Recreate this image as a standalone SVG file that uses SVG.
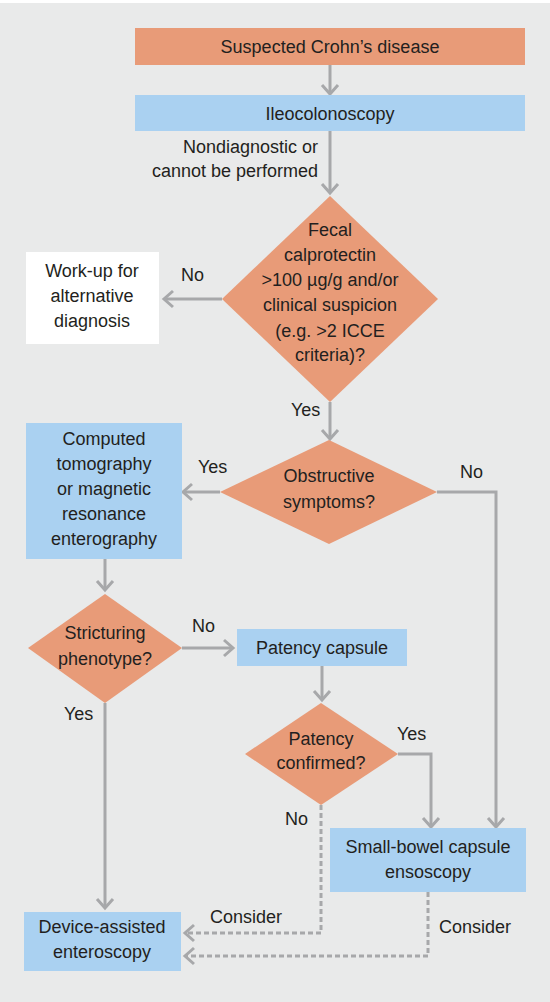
<svg xmlns="http://www.w3.org/2000/svg" width="550" height="1002" viewBox="0 0 550 1002">
<defs>
<style>
.t{font-family:"Liberation Sans",Arial,sans-serif;font-size:18px;fill:#231f20;text-anchor:middle}
.l{font-family:"Liberation Sans",Arial,sans-serif;font-size:18px;fill:#231f20}
.r{text-anchor:end}
.or{fill:#e89b78}
.bl{fill:#aad1f1}
.ln{fill:none;stroke:#a7a8aa;stroke-width:3}
.ds{stroke-dasharray:5,3}
</style>
<marker id="ah" markerUnits="userSpaceOnUse" markerWidth="14" markerHeight="22" refX="11" refY="10" orient="auto">
<path d="M2,2 L11,10 L2,18" fill="none" stroke="#a7a8aa" stroke-width="3"/>
</marker>
</defs>
<rect x="0" y="0" width="550" height="1002" fill="#ffffff"/>
<rect x="0" y="3" width="550" height="999" fill="#e9eaea"/>

<g id="connectors">
<line class="ln" x1="330" y1="65" x2="330" y2="94" marker-end="url(#ah)"/>
<line class="ln" x1="330" y1="131" x2="330" y2="193" marker-end="url(#ah)"/>
<line class="ln" x1="222" y1="299" x2="164" y2="299" marker-end="url(#ah)"/>
<line class="ln" x1="330" y1="402" x2="330" y2="439" marker-end="url(#ah)"/>
<line class="ln" x1="220" y1="492" x2="183" y2="492" marker-end="url(#ah)"/>
<polyline class="ln" points="437,492 496,492 496,827" marker-end="url(#ah)"/>
<line class="ln" x1="105" y1="559" x2="105" y2="590" marker-end="url(#ah)"/>
<line class="ln" x1="182" y1="648" x2="233" y2="648" marker-end="url(#ah)"/>
<line class="ln" x1="322" y1="666" x2="322" y2="700" marker-end="url(#ah)"/>
<polyline class="ln" points="398,754 431,754 431,827" marker-end="url(#ah)"/>
<line class="ln" x1="105" y1="703" x2="105" y2="908" marker-end="url(#ah)"/>
<polyline class="ln ds" points="321,805 321,933 185,933" marker-end="url(#ah)"/>
<polyline class="ln ds" points="428,892 428,956 185,956" marker-end="url(#ah)"/>
<text class="l r" x="318" y="153">Nondiagnostic or</text>
<text class="l r" x="318" y="177">cannot be performed</text>
<text class="l" x="181" y="281">No</text>
<text class="l" x="291" y="416">Yes</text>
<text class="l" x="198" y="473">Yes</text>
<text class="l" x="460" y="478">No</text>
<text class="l" x="192" y="632">No</text>
<text class="l" x="64" y="720">Yes</text>
<text class="l" x="397" y="740">Yes</text>
<text class="l" x="285" y="825">No</text>
<text class="l" x="210" y="923">Consider</text>
<text class="l" x="439" y="933">Consider</text>
</g>

<g id="n1"><rect class="or" x="135" y="28" width="390" height="37"/><text class="t" x="330" y="53">Suspected Crohn’s disease</text></g>
<g id="n2"><rect class="bl" x="135" y="95" width="390" height="36"/><text class="t" x="330" y="120">Ileocolonoscopy</text></g>
<g id="n3"><polygon class="or" points="330,196 438,299 330,402 222,299"/>
<text class="t" x="330" y="236">Fecal</text>
<text class="t" x="330" y="261">calprotectin</text>
<text class="t" x="330" y="286">&gt;100 µg/g and/or</text>
<text class="t" x="330" y="311">clinical suspicion</text>
<text class="t" x="330" y="337">(e.g. &gt;2 ICCE</text>
<text class="t" x="330" y="361">criteria)?</text></g>
<g id="n4"><rect x="26" y="252" width="133" height="92" fill="#ffffff"/>
<text class="t" x="92" y="277">Work-up for</text>
<text class="t" x="92" y="302">alternative</text>
<text class="t" x="92" y="327">diagnosis</text></g>
<g id="n5"><polygon class="or" points="329,440 437,492 329,544 220,492"/>
<text class="t" x="329" y="482">Obstructive</text>
<text class="t" x="329" y="508">symptoms?</text></g>
<g id="n6"><rect class="bl" x="26" y="423" width="156" height="136"/>
<text class="t" x="104" y="445">Computed</text>
<text class="t" x="104" y="470">tomography</text>
<text class="t" x="104" y="495">or magnetic</text>
<text class="t" x="104" y="520">resonance</text>
<text class="t" x="104" y="545">enterography</text></g>
<g id="n7"><polygon class="or" points="105,594 182,648 105,703 28,648"/>
<text class="t" x="105" y="639">Stricturing</text>
<text class="t" x="105" y="665">phenotype?</text></g>
<g id="n8"><rect class="bl" x="237" y="629" width="170" height="37"/><text class="t" x="322" y="654">Patency capsule</text></g>
<g id="n9"><polygon class="or" points="321,703 398,754 321,805 245,754"/>
<text class="t" x="321" y="745">Patency</text>
<text class="t" x="321" y="769">confirmed?</text></g>
<g id="n10"><rect class="bl" x="330" y="828" width="196" height="64"/>
<text class="t" x="428" y="853">Small-bowel capsule</text>
<text class="t" x="428" y="878">ensoscopy</text></g>
<g id="n11"><rect class="bl" x="24" y="912" width="157" height="59"/>
<text class="t" x="102" y="933">Device-assisted</text>
<text class="t" x="102" y="958">enteroscopy</text></g>
</svg>
